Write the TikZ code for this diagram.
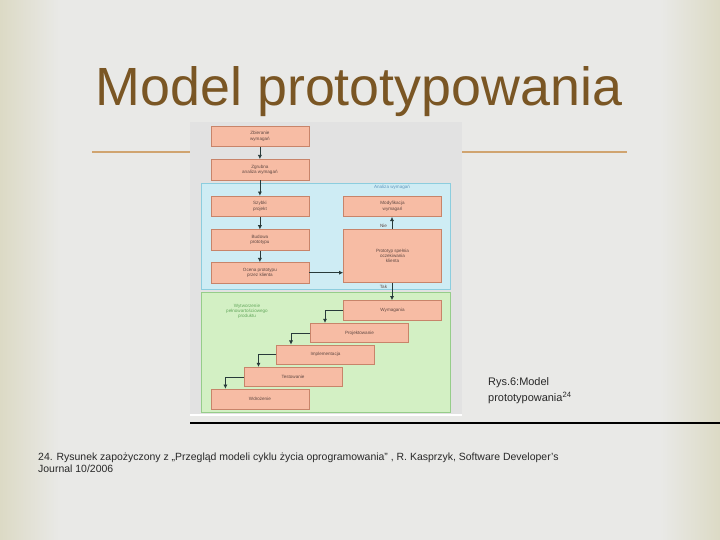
\documentclass[tikz,border=0pt]{standalone}
\usepackage{fontspec}
\setmainfont{Liberation Sans}
\usetikzlibrary{arrows.meta,calc}
\definecolor{slidebg}{RGB}{233,233,231}
\definecolor{slideedge}{RGB}{220,218,197}
\definecolor{titlecol}{RGB}{122,86,36}
\definecolor{rulecol}{RGB}{208,164,112}
\definecolor{figbg}{RGB}{226,226,226}
\definecolor{boxfill}{RGB}{247,188,164}
\definecolor{boxdraw}{RGB}{200,132,106}
\definecolor{boxtext}{RGB}{95,72,66}
\definecolor{bluefill}{RGB}{206,236,244}
\definecolor{bluedraw}{RGB}{140,205,222}
\definecolor{bluetext}{RGB}{95,150,190}
\definecolor{greenfill}{RGB}{211,240,196}
\definecolor{greendraw}{RGB}{150,205,138}
\definecolor{greentext}{RGB}{100,168,92}
\definecolor{arrcol}{RGB}{40,58,58}
\definecolor{captext}{RGB}{40,40,40}
\tikzset{
  bx/.style={draw=boxdraw, line width=0.6bp, fill=boxfill, text=boxtext,
    minimum width=98bp, minimum height=20.5bp, inner sep=0pt, align=center,
    font=\fontsize{4.6}{5.2}\selectfont},
  arr/.style={draw=arrcol, line width=0.8bp, -{Latex[length=4.2bp,width=4.2bp]}},
  small/.style={font=\fontsize{4.6}{5.2}\selectfont, inner sep=0pt, align=center}
}
\begin{document}
\begin{tikzpicture}[x=1bp,y=-1bp]
\useasboundingbox (0,0) rectangle (720,540);
% slide background
\fill[slidebg] (0,0) rectangle (720,540);
\shade[left color=slideedge, right color=slidebg] (0,0) rectangle (60,540);
\shade[left color=slidebg, right color=slideedge] (660,0) rectangle (720,540);
% title
\node[anchor=base, text=titlecol, font=\fontsize{54}{60}\selectfont, inner sep=0pt] (title) at (359,106) {Model prototypowania};
% decorative rules
\draw[rulecol, line width=2bp] (92,152) -- (190,152);
\draw[rulecol, line width=2bp] (462,152) -- (627,152);
% figure background
\fill[figbg] (190,122) rectangle (462,415);
\draw[white, line width=2bp] (190,415) -- (462,415);
% regions
\draw[draw=bluedraw, fill=bluefill, line width=0.6bp] (201.7,183.3) rectangle (450,289);
\draw[draw=greendraw, fill=greenfill, line width=0.6bp] (201.7,292.3) rectangle (450,412.7);
\node[small, text=bluetext] (lblA) at (392,186.8) {Analiza wymagań};
\node[small, text=greentext] (lblW) at (247,311) {Wytworzenie\\pełnowartościowego\\produktu};
% boxes
\node[bx] (zb) at (259.9,136.4) {Zbieranie\\wymagań};
\node[bx] (zg) at (259.9,169.7) {Zgrubna\\analiza wymagań};
\node[bx] (sp) at (259.9,206.3) {Szybki\\projekt};
\node[bx] (bp) at (259.9,240) {Budowa\\prototypu};
\node[bx] (oc) at (259.9,272.7) {Ocena prototypu\\przez klienta};
\node[bx] (mw) at (392.5,206.3) {Modyfikacja\\wymagań};
\node[bx, minimum height=53.3bp] (pr) at (392.5,256) {Prototyp spełnia\\oczekiwania\\klienta};
\node[bx, minimum height=19.5bp] (wy) at (392.5,310.3) {Wymagania};
\node[bx, minimum height=19.5bp] (pj) at (359.5,333) {Projektowanie};
\node[bx, minimum height=19.5bp] (im) at (325.5,354.7) {Implementacja};
\node[bx, minimum height=19.5bp] (te) at (293,377) {Testowanie};
\node[bx, minimum height=20.3bp] (wd) at (259.9,399.2) {Wdrożenie};
% arrows
\draw[arr] (zb) -- (zg);
\draw[arr] (zg) -- (sp);
\draw[arr] (sp) -- (bp);
\draw[arr] (bp) -- (oc);
\draw[arr] (oc.east) -- (oc.east -| pr.west);
\draw[arr] ([xshift=-0.5bp]pr.north) -- ([xshift=-0.5bp]mw.south);
\draw[arr] ([xshift=-0.5bp]pr.south) -- ([xshift=-0.5bp]wy.north);
\node[small, text=boxtext] (nie) at (383.5,226) {Nie};
\node[small, text=boxtext] (tak) at (383.5,286.5) {Tak};
\draw[arr] (wy.west) -| ([xshift=-34.5bp]pj.north);
\draw[arr] (pj.west) -| ([xshift=-34.5bp]im.north);
\draw[arr] (im.west) -| ([xshift=-34.5bp]te.north);
\draw[arr] (te.west) -| ([xshift=-34.5bp]wd.north);
% caption
\node[anchor=west, align=left, text=captext, font=\fontsize{11}{16}\selectfont, inner sep=0pt] (cap) at (488,391) {Rys.6:Model\\prototypowania\textsuperscript{24}};
% separator
\draw[black, line width=1.5bp] (190,423) -- (720,423);
% footnote
\node[anchor=north west, align=left, text=captext, font=\fontsize{10.5}{12.5}\selectfont, inner sep=0pt] (fn) at (38,452.5) {24. Rysunek zapożyczony z „Przegląd modeli cyklu życia oprogramowania” , R. Kasprzyk, Software Developer's\\Journal 10/2006};
\end{tikzpicture}
\end{document}
